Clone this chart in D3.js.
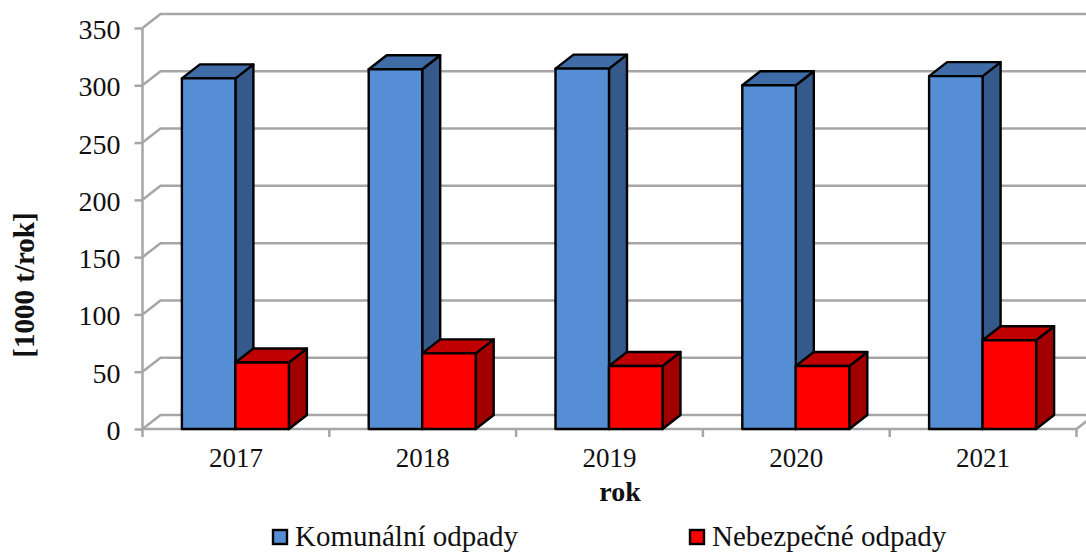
<!DOCTYPE html>
<html>
<head>
<meta charset="utf-8">
<script src="https://cdn.jsdelivr.net/npm/d3@7"></script>
<style>
html,body{margin:0;padding:0;background:#fff;overflow:hidden}
text{font-family:"Liberation Serif",serif;fill:#111}
</style>
</head>
<body>
<div id="chart"></div>
<script>
var years = ["2017","2018","2019","2020","2021"];
var komunalni = [306,314,314.5,300,308];
var nebezpecne = [58,66,55,55,77.5];
var yTicks = [0,50,100,150,200,250,300,350];
var seriesNames = ["Komunální odpady","Nebezpečné odpady"];

var width = 1086, height = 552;
var left = 142.5, right = 1076.5, bottom = 429, top_ = 28;
// hloubka 3D
var dx = 18, dy = -14;

var svg = d3.select("#chart").append("svg").attr("width",width).attr("height",height);

var x = d3.scaleBand().domain(years).range([left,right]);
var y = d3.scaleLinear().domain([0,350]).range([bottom,top_]);
var barW = 53.5;

var gridColor = "#a6a6a6";

// mrizka na zadni stene
var grid = svg.append("g").attr("fill","none").attr("stroke",gridColor).attr("stroke-width",2.5);
yTicks.forEach(function(t){
	grid.append("path").attr("d",`M${left},${y(t)}L${left+dx},${y(t)+dy}L${right+dx},${y(t)+dy}`);
});
// pravy okraj podlahy
grid.append("path").attr("d",`M${right},${bottom}L${right+dx},${bottom+dy}`);

// osa y
var yAxis = svg.append("g").attr("transform",`translate(${left},0)`)
	.call(d3.axisLeft(y).tickValues(yTicks).tickSize(8).tickPadding(14));
yAxis.select(".domain").attr("stroke",gridColor).attr("stroke-width",2.5).attr("d",`M0,${top_}L0,${bottom}`);
yAxis.selectAll("line").attr("stroke",gridColor).attr("stroke-width",2.5);
yAxis.selectAll("text").style("font-size","28px").attr("fill","#111").attr("y",1.5);

// osa x
var xAxis = svg.append("g").attr("transform",`translate(0,${bottom})`)
	.call(d3.axisBottom(x).tickSize(0).tickPadding(19));
xAxis.select(".domain").attr("stroke",gridColor).attr("stroke-width",2.5).attr("d",`M${left},0L${right},0`);
xAxis.selectAll("text").style("font-size","27px").attr("fill","#111");
xAxis.selectAll("line.edge").data(d3.range(years.length+1)).enter().append("line").attr("class","edge")
	.attr("x1",i=>left+i*x.bandwidth()).attr("x2",i=>left+i*x.bandwidth())
	.attr("y1",0).attr("y2",8)
	.attr("stroke",gridColor).attr("stroke-width",2.5);

// sloupec 3D
function bar3d(g,x0,val,front,topc,side){
	var x1 = x0+barW, yt = y(val), yb = y(0);
	var p = g.append("g").attr("stroke","#000").attr("stroke-width",2.4).attr("stroke-linejoin","round");
	p.append("path").attr("fill",side).attr("d",`M${x1},${yt}L${x1+dx},${yt+dy}L${x1+dx},${yb+dy}L${x1},${yb}Z`);
	p.append("path").attr("fill",topc).attr("d",`M${x0},${yt}L${x0+dx},${yt+dy}L${x1+dx},${yt+dy}L${x1},${yt}Z`);
	p.append("path").attr("fill",front).attr("d",`M${x0},${yt}L${x1},${yt}L${x1},${yb}L${x0},${yb}Z`);
}

var bars = svg.append("g");
years.forEach(function(yr,i){
	var c = x(yr)+x.bandwidth()/2-0.5;
	bar3d(bars,c-barW,komunalni[i],"#558ed5","#3f6ca6","#35598a");
	bar3d(bars,c,nebezpecne[i],"#ff0000","#c00000","#a00000");
});

// popisky os
svg.append("text").attr("x",620).attr("y",501).attr("text-anchor","middle")
	.style("font-size","28px").style("font-weight","bold").text("rok");
svg.append("text").attr("transform","translate(34,285) rotate(-90)").attr("text-anchor","middle")
	.style("font-size","29px").style("font-weight","bold").text("[1000 t/rok]");

// legenda
var legendX = [273,690], legendColors = ["#558ed5","#ff0000"];
seriesNames.forEach(function(n,i){
	svg.append("rect").attr("x",legendX[i]).attr("y",530).attr("width",14).attr("height",14)
		.attr("fill",legendColors[i]).attr("stroke","#000").attr("stroke-width",2.4);
	svg.append("text").attr("x",legendX[i]+22).attr("y",546).style("font-size","29px").text(n);
});
</script>
</body>
</html>
